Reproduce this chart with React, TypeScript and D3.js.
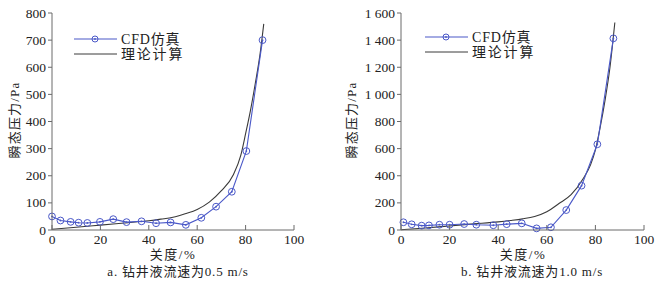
import React from "react";
import * as d3 from "d3";

const xTicks = [0, 20, 40, 60, 80, 100];
const yTicksA = [0, 100, 200, 300, 400, 500, 600, 700, 800];
const yTicksB = [0, 200, 400, 600, 800, 1000, 1200, 1400, 1600];
const yTickLabelsB = ["0", "200", "400", "600", "800", "1 000", "1 200", "1 400", "1 600"];

const cfdAx = [0, 3.5, 7.7, 11, 14.6, 19.8, 25.3, 30.8, 37, 43, 49, 55.3, 61.7, 67.8, 74.3, 80.3, 87];
const cfdAy = [50, 35, 30, 27, 26, 30, 40, 29, 32, 25, 28, 19, 45, 86, 141, 291, 700];
const theoAx = [0, 10, 20, 30, 40, 45, 50, 55, 60, 65, 70, 75, 78, 80, 82, 84, 86, 87.5];
const theoAy = [3, 10, 18, 26, 34, 40, 47, 60, 76, 103, 145, 205, 275, 355, 440, 540, 650, 760];

const cfdBx = [1, 4.4, 8.5, 11.5, 15.8, 20, 26, 31, 38, 43.5, 49.7, 55.8, 61.7, 68, 74.3, 80.8, 87.4];
const cfdBy = [57, 42, 32, 34, 39, 39, 44, 39, 35, 43, 49, 12, 20, 147, 327, 632, 1413];
const theoBx = [0, 10, 20, 30, 40, 45, 50, 55, 60, 65, 70, 75, 78, 80, 82, 84, 86, 88];
const theoBy = [2, 15, 30, 45, 60, 70, 82, 100, 135, 195, 260, 380, 480, 590, 760, 960, 1200, 1530];

const FONT = "'Liberation Serif', 'Noto Sans CJK SC', serif";
const BLUE = "#4a58c8";
const GRAY = "#3a3a3a";
const AXIS = "#6a6a6a";

type PanelProps = {
  x0: number; x1: number; yMax: number; yTicks: number[]; yLabels: string[];
  cx: number[]; cy: number[]; tx: number[]; ty: number[];
  legendX: number; legendY: number; yLabelX: number; caption: string; captionX: number; xLabelX: number;
};

function Panel(p: PanelProps) {
  const x = d3.scaleLinear().domain([0, 100]).range([p.x0, p.x1]);
  const y = d3.scaleLinear().domain([0, p.yMax]).range([230, 13]);
  const cfd = p.cx.map((v, i) => [v, p.cy[i]] as [number, number]);
  const theo = p.tx.map((v, i) => [v, p.ty[i]] as [number, number]);
  const lineLin = d3.line<[number, number]>().x(d => x(d[0])).y(d => y(d[1]));
  const lineCurve = d3.line<[number, number]>().x(d => x(d[0])).y(d => y(d[1])).curve(d3.curveMonotoneX);
  return (
    <g fontFamily={FONT}>
      <path d={lineCurve(theo) || ""} fill="none" stroke={GRAY} strokeWidth={1.1} />
      <path d={lineLin(cfd) || ""} fill="none" stroke={BLUE} strokeWidth={1.1} />
      {cfd.map((d, i) => (
        <g key={i}>
          <circle cx={x(d[0])} cy={y(d[1])} r={3.4} fill="none" stroke={BLUE} strokeWidth={1} />
          <circle cx={x(d[0])} cy={y(d[1])} r={0.9} fill={BLUE} />
        </g>
      ))}
      <line x1={p.x0} x2={p.x0} y1={y(p.yMax)} y2={230} stroke={AXIS} strokeWidth={1} />
      <line x1={p.x0} x2={p.x1} y1={230} y2={230} stroke={AXIS} strokeWidth={1} />
      {p.yTicks.map((t, i) => (
        <g key={t}>
          <line x1={p.x0 - 4} x2={p.x0} y1={y(t)} y2={y(t)} stroke={AXIS} />
          <text x={p.x0 - 6} y={y(t) + 4.5} textAnchor="end" fontSize={13.5} fill="#222">{p.yLabels[i]}</text>
        </g>
      ))}
      {xTicks.map(t => (
        <g key={t}>
          <line x1={x(t)} x2={x(t)} y1={230} y2={225} stroke={AXIS} />
          <text x={x(t)} y={244} textAnchor="middle" fontSize={13.5} fill="#222">{t}</text>
        </g>
      ))}
      <text x={p.xLabelX} y={259} textAnchor="middle" fontSize={13} fill="#222" letterSpacing={1.5}>关度/%</text>
      <text x={p.captionX} y={276} textAnchor="middle" fontSize={13} fill="#222" letterSpacing={0.8}>{p.caption}</text>
      <text transform={`translate(${p.yLabelX},120) rotate(-90)`} textAnchor="middle" fontSize={13} fill="#222" letterSpacing={1.2}>瞬态压力/Pa</text>
      <line x1={p.legendX} x2={p.legendX + 43} y1={p.legendY} y2={p.legendY} stroke={BLUE} strokeWidth={1.1} />
      <circle cx={p.legendX + 21} cy={p.legendY} r={3} fill="none" stroke={BLUE} />
      <circle cx={p.legendX + 21} cy={p.legendY} r={0.9} fill={BLUE} />
      <text x={p.legendX + 47} y={p.legendY + 5} fontSize={14} fill="#222" letterSpacing={0.8}>CFD仿真</text>
      <line x1={p.legendX} x2={p.legendX + 43} y1={p.legendY + 15} y2={p.legendY + 15} stroke={GRAY} strokeWidth={1} />
      <text x={p.legendX + 47} y={p.legendY + 20} fontSize={14} fill="#222" letterSpacing={1.8}>理论计算</text>
    </g>
  );
}

export default function App() {
  return (
    <svg width={664} height={281} style={{ position: "absolute", left: 0, top: 0, background: "#fff" }}>
      <Panel x0={52} x1={294} yMax={800} yTicks={yTicksA} yLabels={yTicksA.map(String)}
        cx={cfdAx} cy={cfdAy} tx={theoAx} ty={theoAy}
        legendX={74} legendY={39} yLabelX={19} caption="a. 钻井液流速为0.5 m/s" captionX={178} xLabelX={173} />
      <Panel x0={401} x1={644} yMax={1600} yTicks={yTicksB} yLabels={yTickLabelsB}
        cx={cfdBx} cy={cfdBy} tx={theoBx} ty={theoBy}
        legendX={425} legendY={37} yLabelX={356} caption="b. 钻井液流速为1.0 m/s" captionX={532} xLabelX={523} />
    </svg>
  );
}
